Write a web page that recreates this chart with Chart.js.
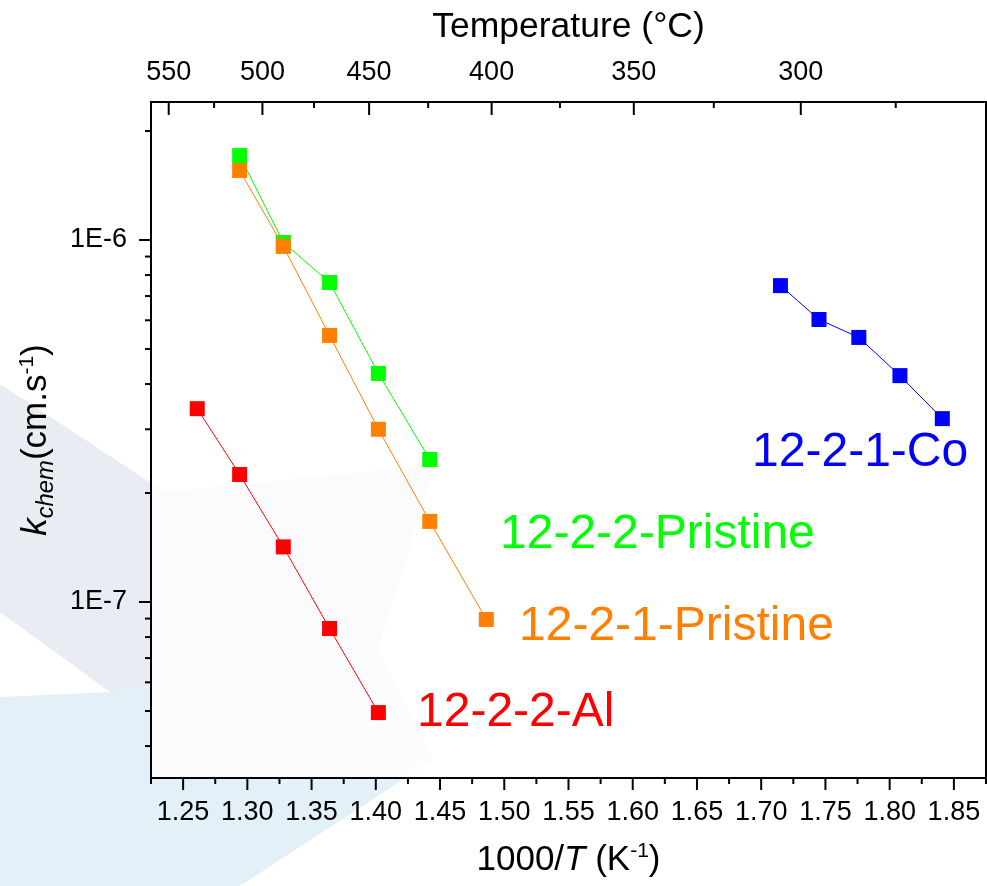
<!DOCTYPE html>
<html>
<head>
<meta charset="utf-8">
<script src="https://cdn.jsdelivr.net/npm/chart.js@4.4.1/dist/chart.umd.min.js"></script>
<style>
html,body{margin:0;padding:0;background:#fff;}
#wrap{width:987px;height:886px;position:relative;}
</style>
</head>
<body>
<div id="wrap"><canvas id="c" width="987" height="886"></canvas></div>
<script>
const FONT = '"Liberation Sans", Arial, Helvetica, sans-serif';

// ---- data: x = 1000/T (K^-1), y = k_chem (cm/s) ----
const seriesNames = ['12-2-1-Pristine', '12-2-2-Pristine', '12-2-2-Al', '12-2-1-Co'];
const xPristine221 = [1.294, 1.328, 1.364, 1.402, 1.442, 1.486];
const yPristine221 = [1.556e-6, 9.6e-7, 5.45e-7, 3.0e-7, 1.67e-7, 8.95e-8];
const xPristine222 = [1.294, 1.328, 1.364, 1.402, 1.442];
const yPristine222 = [1.71e-6, 9.84e-7, 7.63e-7, 4.28e-7, 2.475e-7];
const xAl222 = [1.261, 1.294, 1.328, 1.364, 1.402];
const yAl222 = [3.42e-7, 2.25e-7, 1.42e-7, 8.45e-8, 4.95e-8];
const xCo221 = [1.715, 1.745, 1.776, 1.808, 1.841];
const yCo221 = [7.48e-7, 6.03e-7, 5.38e-7, 4.22e-7, 3.21e-7];

// ---- tick labels / tick values ----
const xTickValues = [1.25, 1.30, 1.35, 1.40, 1.45, 1.50, 1.55, 1.60, 1.65, 1.70, 1.75, 1.80, 1.85];
const xMinorValues = [1.225, 1.275, 1.325, 1.375, 1.425, 1.475, 1.525, 1.575, 1.625, 1.675, 1.725, 1.775, 1.825, 1.875];
const tempLabels = ['550', '500', '450', '400', '350', '300'];
const tempTickPos = [1.21485, 1.29341, 1.38284, 1.48555, 1.60475, 1.74474];
const tempMinorPos = [1.25290, 1.33663, 1.43235, 1.54285, 1.67182, 1.82432];
const yMajorValues = [1e-7, 1e-6];
const yMinorValues = [4e-8, 5e-8, 6e-8, 7e-8, 8e-8, 9e-8, 2e-7, 3e-7, 4e-7, 5e-7, 6e-7, 7e-7, 8e-7, 9e-7, 2e-6];

// ---- styling / annotation placement (not data) ----
const seriesColors = ['#ff8000', '#00ff00', '#ff0000', '#0000ff'];
const labelAnchors = [
  {x: 1.5115, y: 7.85e-8},
  {x: 1.4967, y: 1.41e-7},
  {x: 1.4321, y: 4.545e-8},
  {x: 1.6929, y: 2.375e-7}
];

const seriesX = [xPristine221, xPristine222, xAl222, xCo221];
const seriesY = [yPristine221, yPristine222, yAl222, yCo221];

const datasets = seriesNames.map((name, k) => ({
  label: name,
  data: seriesX[k].map((x, i) => ({x: x, y: seriesY[k][i]})),
  borderColor: seriesColors[k],
  backgroundColor: seriesColors[k],
  pointBackgroundColor: seriesColors[k],
  borderWidth: 1,
  pointStyle: 'rect',
  pointRadius: 10.6,
  pointBorderWidth: 0,
  pointHoverRadius: 10.6,
  tension: 0,
  fill: false,
  showLine: true,
  xAxisID: 'x',
  yAxisID: 'y'
}));

const bgPlugin = {
  id: 'bgFacets',
  beforeDraw(chart) {
    const {ctx, chartArea: a} = chart;
    ctx.save();
    ctx.fillStyle = '#fff';
    ctx.fillRect(0, 0, chart.width, chart.height);
    const poly = (pts, col) => {
      ctx.beginPath();
      ctx.moveTo(pts[0][0], pts[0][1]);
      for (let i = 1; i < pts.length; i++) ctx.lineTo(pts[i][0], pts[i][1]);
      ctx.closePath();
      ctx.fillStyle = col;
      ctx.fill();
    };
    poly([[0,384],[165,492],[435,465],[378,650],[110,692],[0,612]], '#e9ecf2');
    poly([[0,697],[110,692],[378,650],[433,760],[240,886],[0,886]], '#e3f0f8');
    ctx.fillStyle = 'rgba(255,255,255,0.8)';
    ctx.fillRect(a.left, a.top, a.right - a.left, a.bottom - a.top);
    ctx.restore();
  }
};

function drawRich(ctx, parts, cx, cy, size) {
  let total = 0;
  const widths = parts.map(p => {
    ctx.font = (p.italic ? 'italic ' : '') + (size * (p.scale || 1)).toFixed(1) + 'px ' + FONT;
    const w = ctx.measureText(p.t).width;
    total += w;
    return w;
  });
  let x = cx - total / 2;
  ctx.textAlign = 'left';
  ctx.textBaseline = 'alphabetic';
  parts.forEach((p, i) => {
    ctx.font = (p.italic ? 'italic ' : '') + (size * (p.scale || 1)).toFixed(1) + 'px ' + FONT;
    ctx.fillText(p.t, x, cy + (p.dy || 0) * size);
    x += widths[i];
  });
}

const axisPlugin = {
  id: 'axisDeco',
  afterDraw(chart) {
    const {ctx, chartArea: a, scales} = chart;
    ctx.save();
    ctx.strokeStyle = '#000';
    ctx.fillStyle = '#000';
    ctx.lineWidth = 2;
    ctx.lineCap = 'butt';
    ctx.strokeRect(a.left, a.top, a.right - a.left, a.bottom - a.top);
    const line = (x1, y1, x2, y2) => { ctx.beginPath(); ctx.moveTo(x1, y1); ctx.lineTo(x2, y2); ctx.stroke(); };
    xTickValues.forEach(v => { const p = scales.x.getPixelForValue(v); line(p, a.bottom, p, a.bottom + 12); });
    xMinorValues.forEach(v => { const p = scales.x.getPixelForValue(v); line(p, a.bottom, p, a.bottom + 6); });
    tempTickPos.forEach(v => { const p = scales.x2.getPixelForValue(v); line(p, a.top, p, a.top + 13); });
    tempMinorPos.forEach(v => { const p = scales.x2.getPixelForValue(v); line(p, a.top, p, a.top + 6); });
    yMajorValues.forEach(v => { const p = scales.y.getPixelForValue(v); line(a.left - 12, p, a.left, p); });
    yMinorValues.forEach(v => { const p = scales.y.getPixelForValue(v); line(a.left - 6, p, a.left, p); });

    // axis titles
    const cx = (a.left + a.right) / 2;
    drawRich(ctx, [{t: 'Temperature (°C)'}], cx, 37, 35.5);
    drawRich(ctx, [{t: '1000/'}, {t: 'T', italic: true}, {t: ' (K'}, {t: '-1', scale: 0.6, dy: -0.38}, {t: ')'}], cx, 870, 35);
    ctx.save();
    ctx.translate(46, (a.top + a.bottom) / 2);
    ctx.rotate(-Math.PI / 2);
    drawRich(ctx, [{t: 'k', italic: true}, {t: 'chem', italic: true, scale: 0.68, dy: 0.2}, {t: '(cm.s'}, {t: '-1', scale: 0.6, dy: -0.38}, {t: ')'}], 0, 0, 35);
    ctx.restore();

    // series labels
    ctx.font = '48px ' + FONT;
    ctx.textAlign = 'left';
    ctx.textBaseline = 'alphabetic';
    seriesNames.forEach((n, k) => {
      ctx.fillStyle = seriesColors[k];
      ctx.fillText(n, scales.x.getPixelForValue(labelAnchors[k].x), scales.y.getPixelForValue(labelAnchors[k].y));
    });
    ctx.restore();
  }
};

const tickFont = {family: FONT, size: 27};
const noPad = s => { s.paddingTop = 0; s.paddingBottom = 0; s.paddingLeft = 0; s.paddingRight = 0; };

new Chart(document.getElementById('c'), {
  type: 'line',
  data: {datasets: datasets},
  options: {
    responsive: false,
    animation: false,
    layout: {autoPadding: false, padding: {left: 0, right: 1, top: 0, bottom: 0}},
    plugins: {legend: {display: false}, tooltip: {enabled: false}},
    events: [],
    scales: {
      x: {
        type: 'linear', position: 'bottom', min: 1.225, max: 1.875, bounds: 'data',
        afterBuildTicks: s => { s.ticks = xTickValues.map(v => ({value: v})); },
        afterFit: s => { s.height = 108; noPad(s); },
        ticks: {autoSkip: false, maxRotation: 0, minRotation: 0, padding: 18, color: '#000', font: tickFont,
                callback: v => Number(v).toFixed(2)},
        grid: {display: false, drawTicks: false},
        border: {display: false}
      },
      x2: {
        type: 'linear', position: 'top', min: 1.2, max: 1.9, bounds: 'data',
        afterBuildTicks: s => { s.ticks = tempTickPos.map(v => ({value: v})); },
        afterFit: s => { s.height = 102; noPad(s); },
        ticks: {autoSkip: false, maxRotation: 0, minRotation: 0, padding: 13, color: '#000', font: tickFont,
                callback: (v, i) => tempLabels[i]},
        grid: {display: false, drawTicks: false},
        border: {display: false}
      },
      y: {
        type: 'logarithmic', position: 'left', min: 3.265e-8, max: 2.405e-6, bounds: 'data',
        afterBuildTicks: s => { s.ticks = yMajorValues.map(v => ({value: v})); },
        afterFit: s => { s.width = 151; noPad(s); },
        ticks: {autoSkip: false, padding: 24, color: '#000', font: tickFont,
                callback: v => '1E' + Math.round(Math.log10(v))},
        grid: {display: false, drawTicks: false},
        border: {display: false}
      }
    }
  },
  plugins: [bgPlugin, axisPlugin]
});
</script>
</body>
</html>
